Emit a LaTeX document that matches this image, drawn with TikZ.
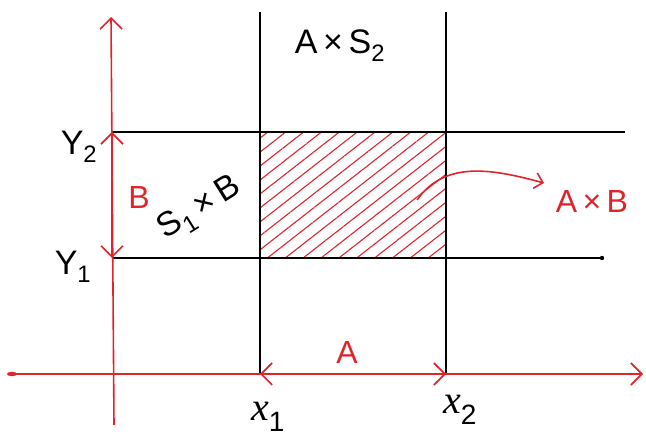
\documentclass[tikz,border=0pt]{standalone}
\usepackage{fontspec}
\setmainfont{Liberation Sans}
\newfontfamily\handx{Liberation Serif}
\usetikzlibrary{arrows.meta,patterns.meta}

\begin{document}
\begin{tikzpicture}[x=1pt,y=1pt, every node/.style={inner sep=0pt},
  axisline/.style={draw=rd, line width=1.6pt},
  gridline/.style={draw=black, line width=1.6pt},
  barb/.style={-{Straight Barb[length=11pt,width=22pt,line width=1.6pt]}},
  lbl/.style={font=\fontsize{34}{36}\selectfont, text=black},
  rlbl/.style={font=\fontsize{32}{34}\selectfont, text=rd}]
\definecolor{rd}{HTML}{E0242B}
\useasboundingbox (0,0) rectangle (646,439);
% end points
\coordinate (vbot) at (114,14);
\coordinate (vtop) at (111,422);
\coordinate (hleft) at (12,65);
\coordinate (hright) at (643,65);
\coordinate (xa) at (260,65);
\coordinate (xb) at (446,65);
\coordinate (xatop) at (260,427);
\coordinate (xbtop) at (446,427);
\coordinate (ya) at (112,181);
\coordinate (yb) at (112,307);
\coordinate (yaend) at (602,181);
\coordinate (ybend) at (625,307);
\coordinate (boxsw) at (260,181);
\coordinate (boxne) at (446,307);
% shaded product
\fill[pattern={Lines[angle=38,distance=11pt,line width=1.1pt]}, pattern color=rd] (boxsw) rectangle (boxne);
% grid lines
\draw[gridline] (xa) -- (xatop);
\draw[gridline] (xb) -- (xbtop);
\draw[gridline] (yb) -- (ybend);
\draw[gridline] (ya) -- (yaend);
\fill (yaend) circle (2.2pt);
% axes
\draw[axisline, barb] (vbot) -- (vtop);
\draw[axisline, barb] (hleft) -- (hright);
\fill[rd] (hleft) ellipse (5pt and 2.2pt);
% intervals
\draw[axisline, barb] (112,244) -- (yb);
\draw[axisline, barb] (112,244) -- (ya);
\draw[axisline, barb] (353,65) -- (xa);
\draw[axisline, barb] (353,65) -- (xb);
% labels
\node[lbl] (ytwo) at (79,292) {Y\textsubscript{2}};
\node[lbl] (yone) at (73,172) {Y\textsubscript{1}};
\node[lbl, font=\fontsize{40}{42}\selectfont] (xone) at (268,22) {{\handx\itshape x}\textsubscript{1}};
\node[lbl, font=\fontsize{40}{42}\selectfont] (xtwo) at (460,29) {{\handx\itshape x}\textsubscript{2}};
\node[lbl] (aups) at (340,393) {A\,×\,S\textsubscript{2}};
\node[lbl, rotate=32] (sonb) at (200,230) {S\textsubscript{1}\,×\,B};
\node[rlbl] (bset) at (139,242) {B};
\node[rlbl] (aset) at (347,87) {A};
\node[rlbl] (axb) at (592,238) {A\,×\,B};
\coordinate (cstart) at (417,239);
\coordinate (cend) at (544,256);
\draw[draw=rd, line width=1.6pt, -{Straight Barb[length=8pt,width=16pt,line width=1.6pt]}] (cstart) to[out=55, in=165] (cend);
\end{tikzpicture}
\end{document}
